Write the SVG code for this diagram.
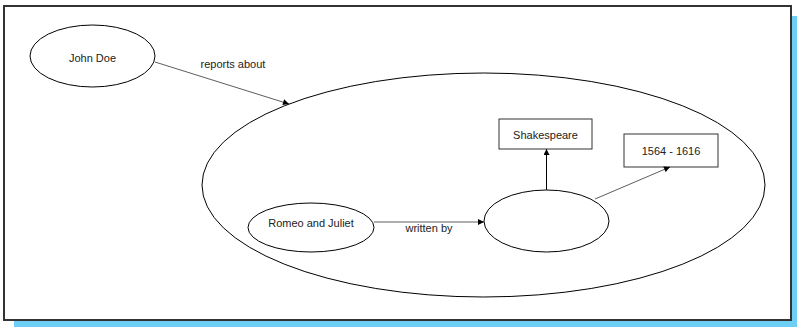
<svg xmlns="http://www.w3.org/2000/svg" width="797" height="327" viewBox="0 0 797 327">
<style>
text{font-family:"Liberation Sans",Arial,sans-serif;font-size:11px;fill:#222;text-anchor:middle}
.n{fill:#fff;stroke:#000;stroke-width:1}
.b{fill:#fff;stroke:#333;stroke-width:1}
.c{fill:none;stroke:#333;stroke-width:0.8}
</style>
<defs>
<marker id="ah" viewBox="0 0 10 10" refX="10" refY="5" markerWidth="7" markerHeight="6" markerUnits="userSpaceOnUse" orient="auto">
<path d="M0,0 L10,5 L0,10 z" fill="#000"/>
</marker>
</defs>
<rect x="14" y="16" width="783" height="311" fill="#6ecff6"/>
<rect x="4" y="6" width="787" height="314" fill="#fff" stroke="#333" stroke-width="2"/>
<g id="context">
<ellipse cx="483.5" cy="185" rx="281.5" ry="112" class="n"/>
</g>
<g id="john">
<ellipse cx="92.5" cy="56" rx="62.5" ry="31" class="n"/>
<text x="92.5" y="62">John Doe</text>
</g>
<g id="romeo">
<ellipse cx="311" cy="227.5" rx="63" ry="24.5" class="n"/>
<text x="311" y="227">Romeo and Juliet</text>
</g>
<g id="blank">
<ellipse cx="546.5" cy="221" rx="62.5" ry="31" class="n"/>
</g>
<g id="shakespeare">
<rect x="499" y="119" width="93" height="30" class="b"/>
<text x="545.5" y="139">Shakespeare</text>
</g>
<g id="years">
<rect x="624" y="134" width="94" height="33" class="b"/>
<text x="671" y="155">1564 - 1616</text>
</g>
<g id="connectors">
<line x1="155" y1="62" x2="289" y2="104" class="c" marker-end="url(#ah)"/>
<text x="233" y="68">reports about</text>
<line x1="374" y1="222" x2="484" y2="222" class="c" marker-end="url(#ah)"/>
<text x="429" y="232">written by</text>
<line x1="546.5" y1="190" x2="546.5" y2="149" stroke="#000" stroke-width="1" marker-end="url(#ah)"/>
<line x1="595" y1="199" x2="670" y2="167" class="c" marker-end="url(#ah)"/>
</g>
</svg>
